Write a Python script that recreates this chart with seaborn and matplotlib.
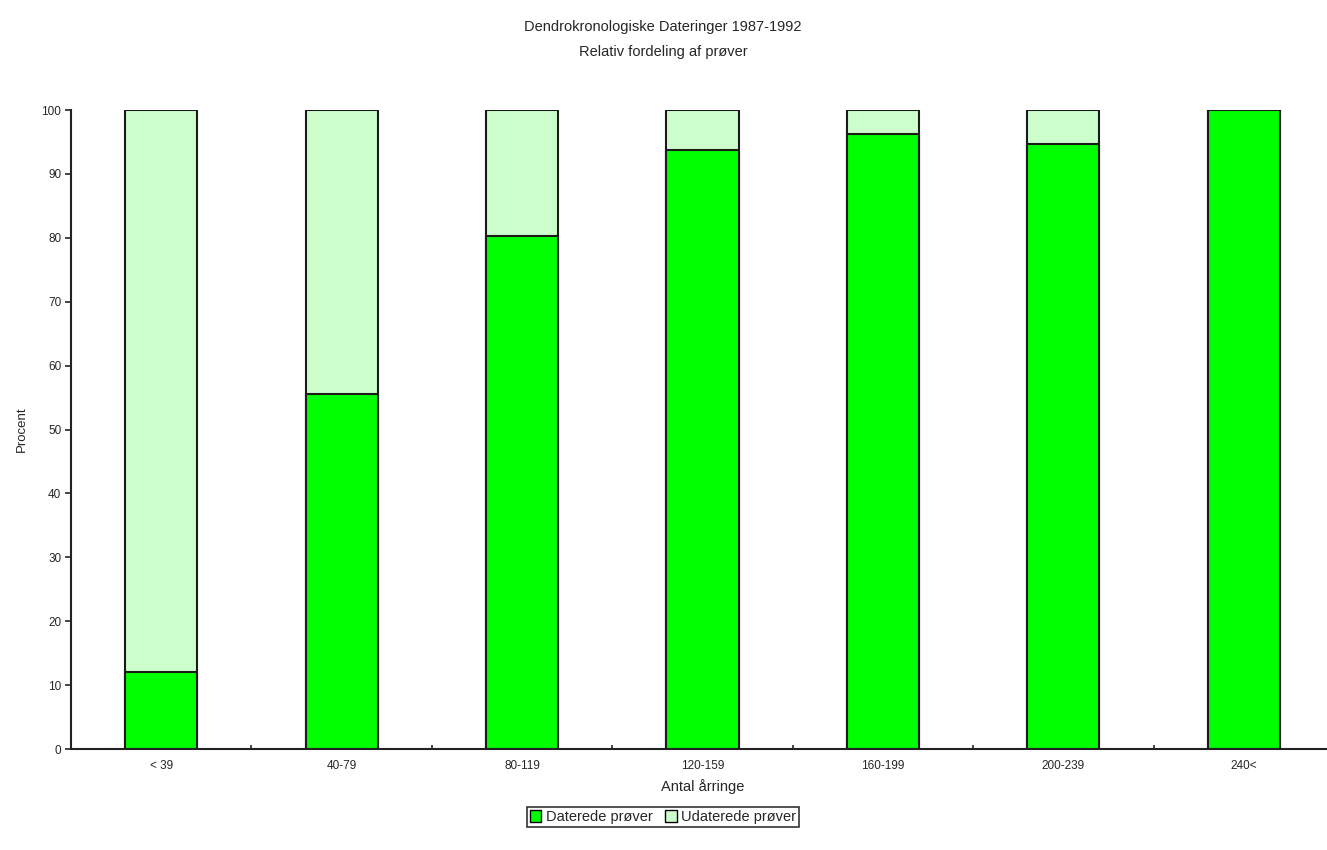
import matplotlib
matplotlib.use("Agg")
import matplotlib.pyplot as plt
import seaborn as sns
import pandas as pd
import numpy as np
from matplotlib.patches import Patch

categories = ["< 39", "40-79", "80-119", "120-159", "160-199", "200-239", "240<"]
daterede = [12.0, 55.6, 80.3, 93.7, 96.2, 94.7, 100.0]
udaterede = [88.0, 44.4, 19.7, 6.3, 3.8, 5.3, 0.0]

title_lines = ["Dendrokronologiske Dateringer 1987-1992", "Relativ fordeling af prøver"]
x_label = "Antal årringe"
y_label = "Procent"
series_labels = ["Daterede prøver", "Udaterede prøver"]

sns.set_theme(style="white")
plt.rcParams['font.family'] = ['Liberation Sans', 'DejaVu Sans']

df = pd.DataFrame({"cat": categories, "dated": daterede, "undated": udaterede})
df["total"] = df["dated"] + df["undated"]

fig = plt.figure(figsize=(13.27, 8.5), dpi=100)
ax = fig.add_axes([71/1327, 101/850, (1334-71)/1327, 639/850])

dark = "#00FF00"
light = "#CCFFCC"
edge = "#1a1a1a"

sns.barplot(data=df, x="cat", y="total", color=light, saturation=1, width=0.4,
            edgecolor=edge, linewidth=1.5, ax=ax, order=categories)
sns.barplot(data=df, x="cat", y="dated", color=dark, saturation=1, width=0.4,
            edgecolor=edge, linewidth=1.5, ax=ax, order=categories)

ax.set_xlim(-0.5, 6.5)
ax.set_ylim(0, 100)
ax.set_yticks(np.arange(0, 101, 10))
ax.tick_params(axis="y", direction="out", length=4, width=1.2, labelsize=8.5, pad=3, left=True)
ax.tick_params(axis="x", length=0, labelsize=8.5, pad=8)
ax.set_xticks(np.arange(-0.5, 6.6, 1.0), minor=True)
ax.tick_params(axis="x", which="minor", direction="in", length=3, width=1.2, bottom=True)

for s in ["top", "right"]:
    ax.spines[s].set_visible(False)
for s in ["left", "bottom"]:
    ax.spines[s].set_color("#222222")
    ax.spines[s].set_linewidth(1.5)
ax.spines["bottom"].set_clip_on(False)

ax.set_xlabel(x_label, fontsize=10.5, labelpad=5)
ax.set_ylabel(y_label, fontsize=9.5, labelpad=10)

fig.text(663/1327, 1 - 27/850, title_lines[0], ha="center", va="center", fontsize=10.5)
fig.text(663/1327, 1 - 52/850, title_lines[1], ha="center", va="center", fontsize=10.5)

handles = [Patch(facecolor=dark, edgecolor="black", linewidth=1),
           Patch(facecolor=light, edgecolor="black", linewidth=1)]
leg = fig.legend(handles, series_labels, loc="center", bbox_to_anchor=(663/1327, 1 - 817/850),
                 ncol=2, frameon=True, fontsize=10.5, handlelength=0.8, handleheight=0.8,
                 handletextpad=0.3, columnspacing=0.9, borderpad=0.2, fancybox=False)
leg.get_frame().set_edgecolor("black")
leg.get_frame().set_linewidth(1.2)

fig.savefig("out.png", dpi=100)
